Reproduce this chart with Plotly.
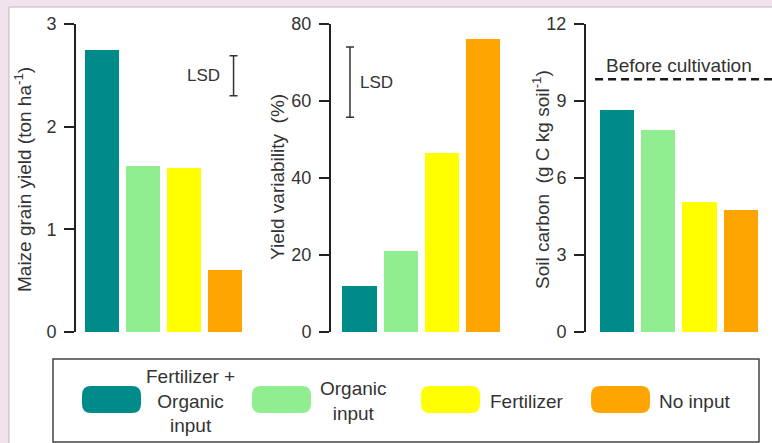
import plotly.graph_objects as go

# Treatments (shared by all three panels)
treatments = ["Fertilizer + Organic input", "Organic input", "Fertilizer", "No input"]
legend_labels = ["Fertilizer +<br>Organic<br>input", "Organic<br>input", "Fertilizer", "No input"]
bar_colors = ["#008B8B", "#90EE90", "#FFFF00", "#FFA500"]

# Panel values
maize_yield = [2.75, 1.62, 1.60, 0.60]          # ton ha-1
yield_variability = [12.0, 21.0, 46.6, 76.1]    # %
soil_carbon = [8.65, 7.87, 5.06, 4.75]          # g C kg soil-1
soil_carbon_before = 9.85                       # before cultivation

# Least significant differences
lsd_yield = 0.39
lsd_yield_mid = 2.495
lsd_var = 18.2
lsd_var_mid = 64.9

# Axis ticks
ticks_yield = [0, 1, 2, 3]
ticks_var = [0, 20, 40, 60, 80]
ticks_carbon = [0, 3, 6, 9, 12]

W, H = 772, 443
FONT = "Arial, Liberation Sans, sans-serif"
TXT = "#333333"


def px(x):
    return x / W


def py(y):
    return 1 - y / H


positions = list(range(len(treatments)))
y_dom = [py(332), py(24)]

fig = go.Figure()

panels = [
    ("x", "y", maize_yield),
    ("x2", "y2", yield_variability),
    ("x3", "y3", soil_carbon),
]
for xa, ya, vals in panels:
    fig.add_trace(go.Bar(
        x=positions, y=vals, xaxis=xa, yaxis=ya, width=0.83,
        marker=dict(color=bar_colors, line=dict(width=0)),
        hovertext=treatments, showlegend=False,
    ))

# LSD bars
for xa, ya, xpos, mid, lsd in [("x", "y", 3.2, lsd_yield_mid, lsd_yield),
                               ("x2", "y2", -0.23, lsd_var_mid, lsd_var)]:
    fig.add_trace(go.Scatter(
        x=[xpos], y=[mid], xaxis=xa, yaxis=ya, mode="markers",
        marker=dict(size=1, color="rgba(0,0,0,0)"),
        error_y=dict(type="data", array=[lsd / 2], visible=True,
                     width=4, thickness=1.5, color="#333333"),
        showlegend=False, hoverinfo="skip",
    ))

yaxis_common = dict(
    showgrid=False, zeroline=False, showline=True, linecolor="#222222",
    linewidth=2, ticks="outside", ticklen=10, tickwidth=1.8,
    tickcolor="#222222", tickfont=dict(family=FONT, size=18, color=TXT),
    ticklabelstandoff=4, domain=y_dom, automargin=False, fixedrange=True,
)
xaxis_common = dict(visible=False, showgrid=False, zeroline=False,
                    automargin=False, fixedrange=True)

fig.update_layout(
    width=W, height=H,
    margin=dict(l=0, r=0, t=0, b=0, pad=0, autoexpand=False),
    paper_bgcolor="#F2E2EE",
    plot_bgcolor="rgba(0,0,0,0)",
    font=dict(family=FONT, color=TXT),
    bargap=0,
    showlegend=False,
    xaxis=dict(**xaxis_common, domain=[px(76), px(250)], range=[-0.634, 3.6]),
    xaxis2=dict(**xaxis_common, domain=[px(331), px(508)], range=[-0.69, 3.6]),
    xaxis3=dict(**xaxis_common, domain=[px(586), px(772)], range=[-0.75, 3.76]),
    yaxis=dict(**yaxis_common, anchor="x", range=[0, 3], tickvals=ticks_yield),
    yaxis2=dict(**yaxis_common, anchor="x2", range=[0, 80], tickvals=ticks_var),
    yaxis3=dict(**yaxis_common, anchor="x3", range=[0, 12], tickvals=ticks_carbon),
)

shapes = [
    # white figure panel
    dict(type="rect", xref="paper", yref="paper", x0=px(9), x1=1.01, y0=-0.01, y1=py(7),
         fillcolor="white", line=dict(color="#BDB5BC", width=1), layer="below"),
    # before-cultivation reference
    dict(type="line", xref="x3", yref="y3", x0=-0.53, x1=3.76,
         y0=soil_carbon_before, y1=soil_carbon_before,
         line=dict(color="#1a1a1a", width=2.5, dash="8px,5px")),
    # legend frame
    dict(type="rect", xref="paper", yref="paper", x0=px(53), x1=px(759),
         y0=py(442), y1=py(359), line=dict(color="#444444", width=1.5)),
]


def swatch(x0, x1, y0, y1, r=9):
    return (f"M {px(x0 + r)} {py(y0)} L {px(x1 - r)} {py(y0)} "
            f"Q {px(x1)} {py(y0)} {px(x1)} {py(y0 + r)} "
            f"L {px(x1)} {py(y1 - r)} Q {px(x1)} {py(y1)} {px(x1 - r)} {py(y1)} "
            f"L {px(x0 + r)} {py(y1)} Q {px(x0)} {py(y1)} {px(x0)} {py(y1 - r)} "
            f"L {px(x0)} {py(y0 + r)} Q {px(x0)} {py(y0)} {px(x0 + r)} {py(y0)} Z")


swatch_left = [82, 252, 421, 591]
for xl, col in zip(swatch_left, bar_colors):
    shapes.append(dict(type="path", xref="paper", yref="paper",
                       path=swatch(xl, xl + 59, 386, 413),
                       fillcolor=col, line=dict(width=0)))
fig.update_layout(shapes=shapes)

ann = []
# axis titles
titles = [
    (23, 180, "Maize grain yield (ton ha<sup>-1</sup>)"),
    (277, 177, "Yield variability\u00a0\u00a0(%)"),
    (541, 180, "Soil carbon\u00a0\u00a0(g C kg soil<sup>-1</sup>)"),
]
for x, y, t in titles:
    ann.append(dict(xref="paper", yref="paper", x=px(x), y=py(y), text=t,
                    textangle=-90, showarrow=False, xanchor="center", yanchor="middle",
                    font=dict(family=FONT, size=19, color=TXT)))

# LSD labels
ann.append(dict(xref="x", yref="y", x=2.93, y=lsd_yield_mid, text="LSD",
                showarrow=False, xanchor="right", yanchor="middle",
                font=dict(family=FONT, size=17, color=TXT)))
ann.append(dict(xref="x2", yref="y2", x=-0.04, y=lsd_var_mid, text="LSD",
                showarrow=False, xanchor="left", yanchor="middle",
                font=dict(family=FONT, size=17, color=TXT)))
# reference label
ann.append(dict(xref="x3", yref="y3", x=1.5, y=soil_carbon_before, text="Before cultivation",
                showarrow=False, xanchor="center", yanchor="bottom", yshift=1,
                font=dict(family=FONT, size=19, color=TXT)))

# legend labels
legend_text_pos = [(190, "center"), (353, "center"), (488, "left"), (657, "left")]
for (x, anchor), lab in zip(legend_text_pos, legend_labels):
    ann.append(dict(xref="paper", yref="paper", x=px(x), y=py(401), text=lab,
                    showarrow=False, xanchor=anchor, yanchor="middle", align="center",
                    font=dict(family=FONT, size=19, color=TXT)))

fig.update_layout(annotations=ann)

fig.write_html("out.html", config={"displayModeBar": False})
